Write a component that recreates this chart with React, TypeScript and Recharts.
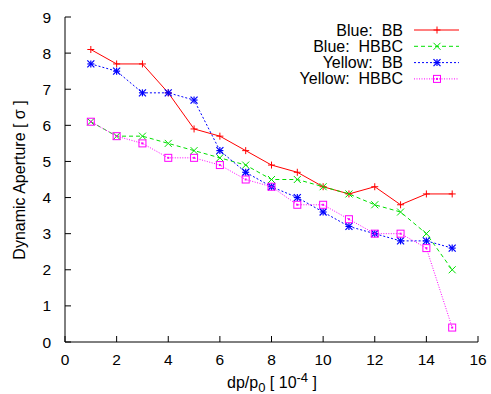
import { LineChart, Line, XAxis, YAxis, Legend } from "recharts";

const dp = [1, 2, 3, 4, 5, 6, 7, 8, 9, 10, 11, 12, 13, 14, 15];
const blueBB = [8.1, 7.7, 7.7, 6.9, 5.9, 5.7, 5.3, 4.9, 4.7, 4.3, 4.1, 4.3, 3.8, 4.1, 4.1];
const blueHBBC = [6.1, 5.7, 5.7, 5.5, 5.3, 5.1, 4.9, 4.5, 4.5, 4.3, 4.1, 3.8, 3.6, 3.0, 2.0];
const yellowBB = [7.7, 7.5, 6.9, 6.9, 6.7, 5.3, 4.7, 4.3, 4.0, 3.6, 3.2, 3.0, 2.8, 2.8, 2.6];
const yellowHBBC = [6.1, 5.7, 5.5, 5.1, 5.1, 4.9, 4.5, 4.3, 3.8, 3.8, 3.4, 3.0, 3.0, 2.6, 0.4];

const xTicks = [0, 2, 4, 6, 8, 10, 12, 14, 16];
const yTicks = [0, 1, 2, 3, 4, 5, 6, 7, 8, 9];

const data = dp.map((x, i) => ({
  x,
  blueBB: blueBB[i],
  blueHBBC: blueHBBC[i],
  yellowBB: yellowBB[i],
  yellowHBBC: yellowHBBC[i],
}));

const FONT = "'Liberation Sans', Arial, sans-serif";

// gnuplot style point shapes
function Mark({ cx, cy, kind, color }: any) {
  const s = 3.5;
  if (cx == null || cy == null) return null;
  if (kind === "plus")
    return (
      <g stroke={color} strokeWidth={1}>
        <line x1={cx - s} y1={cy} x2={cx + s} y2={cy} />
        <line x1={cx} y1={cy - s} x2={cx} y2={cy + s} />
      </g>
    );
  if (kind === "cross")
    return (
      <g stroke={color} strokeWidth={1}>
        <line x1={cx - s} y1={cy - s} x2={cx + s} y2={cy + s} />
        <line x1={cx - s} y1={cy + s} x2={cx + s} y2={cy - s} />
      </g>
    );
  if (kind === "star")
    return (
      <g stroke={color} strokeWidth={1.2}>
        <line x1={cx - s} y1={cy} x2={cx + s} y2={cy} />
        <line x1={cx} y1={cy - s} x2={cx} y2={cy + s} />
        <line x1={cx - s} y1={cy - s} x2={cx + s} y2={cy + s} />
        <line x1={cx - s} y1={cy + s} x2={cx + s} y2={cy - s} />
      </g>
    );
  return (
    <g stroke={color} strokeWidth={1} fill="none">
      <rect x={cx - s} y={cy - s} width={2 * s} height={2 * s} />
      <rect x={cx - 0.5} y={cy - 0.5} width={1} height={1} />
    </g>
  );
}

const series = [
  { key: "blueBB", name: "Blue:  BB", color: "#ff0000", dash: undefined, kind: "plus" },
  { key: "blueHBBC", name: "Blue:  HBBC", color: "#00e000", dash: "4 3", kind: "cross" },
  { key: "yellowBB", name: "Yellow:  BB", color: "#0000ff", dash: "2 2", kind: "star" },
  { key: "yellowHBBC", name: "Yellow:  HBBC", color: "#ff00ff", dash: "1 1.5", kind: "square" },
];

function KeyBox() {
  return (
    <svg width={200} height={70} style={{ display: "block" }}>
      {series.map((s, i) => {
        const y = 10 + i * 16.3;
        return (
          <g key={s.key}>
            <text
              x={133}
              y={y + 5.5}
              textAnchor="end"
              fontFamily={FONT}
              fontSize={16}
              fill="#000"
              style={{ whiteSpace: "pre" }}
            >
              {s.name}
            </text>
            <line x1={144} y1={y} x2={189} y2={y} stroke={s.color} strokeDasharray={s.dash} />
            <Mark cx={167} cy={y} kind={s.kind} color={s.color} />
          </g>
        );
      })}
    </svg>
  );
}

const tickStyle = { fontFamily: FONT, fontSize: 15.5, fill: "#000" };

export default function App() {
  return (
    <div style={{ position: "absolute", left: 0, top: 0, background: "#fff" }}>
      <LineChart width={491} height={394} data={data} margin={{ top: 17, right: 13, left: 0, bottom: 0 }}>
        <XAxis
          dataKey="x"
          type="number"
          domain={[0, 16]}
          ticks={xTicks}
          height={52}
          tick={tickStyle}
          tickSize={-6}
          tickMargin={18}
          stroke="#000"
          label={{
            content: () => (
              <text x={272} y={388} textAnchor="middle" fontFamily={FONT} fontSize={16} fill="#000">
                dp/p
                <tspan dy={4} fontSize={13}>0</tspan>
                <tspan dy={-4}> [ 10</tspan>
                <tspan dy={-6} fontSize={13}>-4</tspan>
                <tspan dy={6}> ]</tspan>
              </text>
            ),
          }}
        />
        <XAxis
          xAxisId="top"
          orientation="top"
          type="number"
          domain={[0, 16]}
          ticks={xTicks}
          height={0}
          tick={false}
          tickSize={-6}
          stroke="#000"
        />
        <YAxis
          type="number"
          domain={[0, 9]}
          ticks={yTicks}
          width={65}
          tick={tickStyle}
          tickSize={-6}
          tickMargin={20}
          stroke="#000"
          label={{
            content: () => (
              <text
                x={19}
                y={180}
                transform="rotate(-90 19 180)"
                textAnchor="middle"
                dominantBaseline="central"
                fontFamily={FONT}
                fontSize={16}
                fill="#000"
              >
                Dynamic Aperture [ σ ]
              </text>
            ),
          }}
        />
        <YAxis
          yAxisId="right"
          orientation="right"
          type="number"
          domain={[0, 9]}
          ticks={yTicks}
          width={0}
          tick={false}
          tickSize={-6}
          stroke="#000"
        />
        <Legend
          layout="horizontal"
          verticalAlign="middle"
          align="center"
          wrapperStyle={{ position: "absolute", top: 20, left: 270, width: 200, height: 70 }}
          content={() => <KeyBox />}
        />
        {series.map((s) => (
          <Line
            key={s.key}
            dataKey={s.key}
            name={s.name}
            stroke={s.color}
            strokeWidth={1}
            strokeDasharray={s.dash}
            isAnimationActive={false}
            dot={(p: any) => <Mark key={`${s.key}-${p.index}`} cx={p.cx} cy={p.cy} kind={s.kind} color={s.color} />}
            activeDot={false}
          />
        ))}
      </LineChart>
    </div>
  );
}
